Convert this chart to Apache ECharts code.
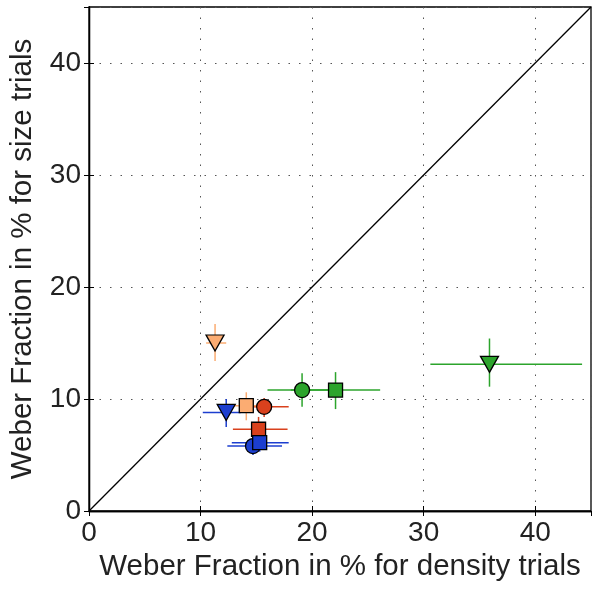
<!DOCTYPE html>
<html>
<head>
<meta charset="utf-8">
<script src="https://cdn.jsdelivr.net/npm/echarts@6/dist/echarts.min.js"></script>
<style>
  html, body { margin: 0; padding: 0; background: #fff; }
  #chart { width: 600px; height: 589px; }
</style>
</head>
<body>
<div id="chart"></div>
<script>
// one entry per condition, in plotting order
const groups = ['red', 'red', 'blue', 'blue', 'blue', 'peach', 'peach', 'green', 'green', 'green'];
const shapes = ['circle', 'square', 'circle', 'square', 'triangle', 'square', 'triangle', 'circle', 'square', 'triangle'];
const densityWF = [15.7, 15.2, 14.7, 15.3, 12.3, 14.1, 11.3, 19.1, 22.1, 35.9];
const sizeWF    = [9.3, 7.3, 5.8, 6.1, 8.8, 9.4, 15.0, 10.8, 10.8, 13.1];
const densityLo = [13.5, 12.9, 12.4, 12.8, 10.2, 12.6, 10.5, 16.0, 18.1, 30.6];
const densityHi = [17.9, 17.8, 17.3, 17.9, 13.6, 15.9, 12.3, 22.3, 26.1, 44.2];
const sizeLo    = [8.4, 6.3, 5.0, 5.3, 7.5, 8.1, 13.4, 9.3, 9.1, 11.1];
const sizeHi    = [10.1, 8.4, 6.6, 6.9, 10.0, 10.6, 16.7, 12.3, 12.4, 15.4];
const ticks = [0, 10, 20, 30, 40];

const colors = { red: '#d9411d', blue: '#1c3ecf', peach: '#fbac72', green: '#2ca42c' };
const symbolOf = { circle: 'circle', square: 'rect', triangle: 'triangle' };
const sizeOf = { circle: 15, square: 14, triangle: [18, 16] };

const font = '"Liberation Sans", Arial, Helvetica, sans-serif';

const chart = echarts.init(document.getElementById('chart'));

const series = [{
  type: 'line',
  data: [[0, 0], [45, 45]],
  symbol: 'none',
  lineStyle: { color: '#000', width: 1.3 },
  silent: true
}];

groups.forEach((g, i) => {
  const col = colors[g];
  series.push({
    type: 'custom',
    data: [[densityWF[i], sizeWF[i], densityLo[i], densityHi[i], sizeLo[i], sizeHi[i]]],
    encode: { x: [0, 2, 3], y: [1, 4, 5] },
    renderItem: (params, api) => {
      const l = api.coord([api.value(2), api.value(1)]);
      const r = api.coord([api.value(3), api.value(1)]);
      const b = api.coord([api.value(0), api.value(4)]);
      const t = api.coord([api.value(0), api.value(5)]);
      const st = { stroke: col, lineWidth: 1.5 };
      return {
        type: 'group',
        children: [
          { type: 'line', shape: { x1: l[0], y1: l[1], x2: r[0], y2: r[1] }, style: st },
          { type: 'line', shape: { x1: b[0], y1: b[1], x2: t[0], y2: t[1] }, style: st }
        ]
      };
    },
    silent: true
  });
  series.push({
    type: 'scatter',
    data: [[densityWF[i], sizeWF[i]]],
    symbol: symbolOf[shapes[i]],
    symbolSize: sizeOf[shapes[i]],
    symbolRotate: shapes[i] === 'triangle' ? 180 : 0,
    itemStyle: { color: col, borderColor: '#000', borderWidth: 1.3, opacity: 1 }
  });
});

const gridLine = { show: true, lineStyle: { color: '#555', type: [1.5, 9], width: 1 } };

chart.setOption({
  animation: false,
  grid: { left: 87, right: 9, top: 7, bottom: 78, show: true, borderColor: '#000', borderWidth: 1.3, backgroundColor: 'transparent' },
  xAxis: [{
    type: 'value', min: 0, max: 45, interval: 10,
    name: 'Weber Fraction in % for density trials',
    nameLocation: 'middle', nameGap: 41,
    nameTextStyle: { fontFamily: font, fontSize: 29.5, color: '#222' },
    axisLine: { show: true, lineStyle: { color: '#000', width: 1.3 } },
    axisTick: { show: true, inside: true, length: 5, lineStyle: { color: '#000' } },
    axisLabel: { fontFamily: font, fontSize: 28, color: '#222', margin: 8, showMaxLabel: false,
      formatter: v => ticks.includes(v) ? String(v) : '' },
    splitLine: gridLine
  }, {
    type: 'value', min: 0, max: 45, interval: 10, position: 'top',
    axisLine: { show: true, lineStyle: { color: '#000', width: 1.3 } },
    axisTick: { show: true, inside: true, length: 5, lineStyle: { color: '#000' } },
    axisLabel: { show: false }, splitLine: { show: false }
  }],
  yAxis: [{
    type: 'value', min: 0, max: 45, interval: 10,
    name: 'Weber Fraction in % for size trials',
    nameLocation: 'middle', nameGap: 51,
    nameTextStyle: { fontFamily: font, fontSize: 29.5, color: '#222' },
    axisLine: { show: true, lineStyle: { color: '#000', width: 1.3 } },
    axisTick: { show: true, inside: true, length: 5, lineStyle: { color: '#000' } },
    axisLabel: { fontFamily: font, fontSize: 28, color: '#222', margin: 8, showMaxLabel: false,
      formatter: v => ticks.includes(v) ? String(v) : '' },
    splitLine: gridLine
  }, {
    type: 'value', min: 0, max: 45, interval: 10, position: 'right',
    axisLine: { show: true, lineStyle: { color: '#000', width: 1.3 } },
    axisTick: { show: true, inside: true, length: 5, lineStyle: { color: '#000' } },
    axisLabel: { show: false }, splitLine: { show: false }
  }],
  series: series
});
</script>
</body>
</html>
